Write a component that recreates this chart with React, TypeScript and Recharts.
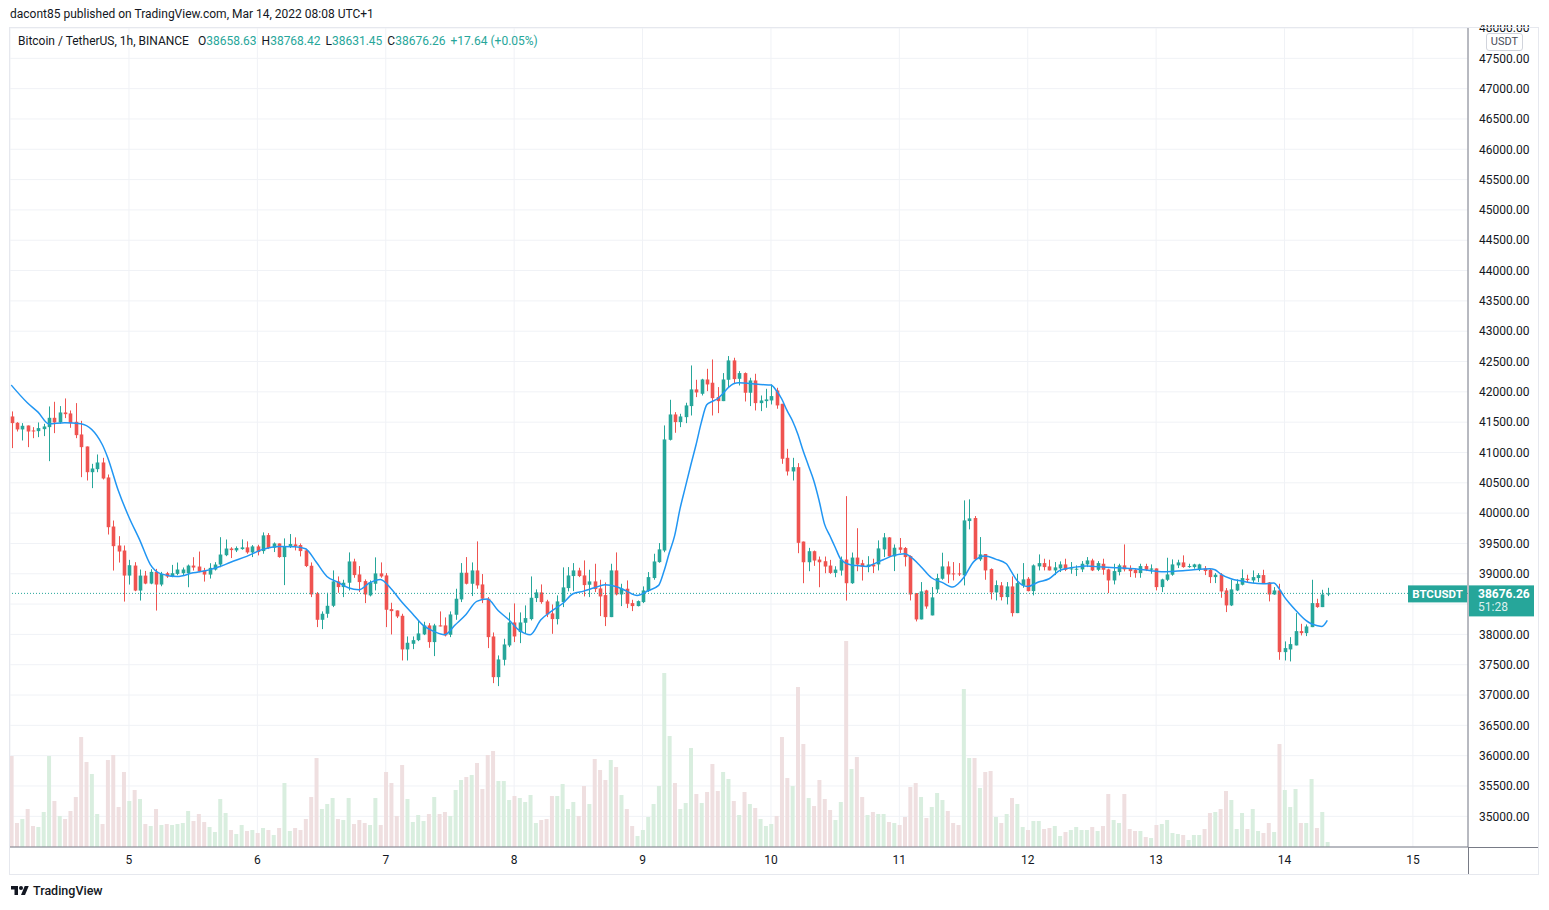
import React from "react";
import {
  ComposedChart,
  Bar,
  Line,
  XAxis,
  YAxis,
  CartesianGrid,
  ReferenceLine,
  Cell,
} from "recharts";

// BTCUSDT 1h candles, first bar = Mar 4 02:00 (UTC+1), last bar = Mar 14 08:00
const opens = [
  41594, 41490, 41380, 41445, 41363, 41352, 41385, 41418, 41572, 41495,
  41660, 41644, 41506, 41297, 41099, 40675, 40725, 40835, 40588, 39779,
  39466, 39383, 38970, 39135, 38723, 38970, 38838, 39031, 38822, 39009,
  38954, 38998, 39009, 39009, 39135, 39119, 39053, 38987, 39069, 39152,
  39306, 39416, 39385, 39407, 39435, 39352, 39451, 39374, 39638, 39429,
  39500, 39275, 39451, 39484, 39473, 39385, 39132, 38676, 38241, 38340,
  38472, 38874, 38780, 38852, 39203, 38989, 38879, 38643, 38835, 39006,
  38972, 38417, 38395, 38307, 37752, 37845, 37905, 38000, 38148, 37873,
  38148, 38148, 37994, 38324, 38577, 39017, 38835, 39055, 38824, 38588,
  37966, 37295, 37581, 37818, 38197, 38038, 38192, 38252, 38599, 38692,
  38544, 38346, 38252, 38533, 38764, 38962, 39055, 38972, 38819, 38874,
  38758, 38648, 38285, 39055, 38659, 38753, 38516, 38467, 38533, 38714,
  38929, 39192, 39383, 41209, 41627, 41501, 41583, 41765, 42040, 41968,
  42204, 42150, 41913, 41847, 42199, 42518, 42215, 42309, 41985, 42188,
  41814, 41847, 41858, 42023, 41803, 40912, 40687, 40758, 39531, 39190,
  39372, 39234, 39207, 39135, 39014, 39053, 39234, 38844, 39267, 39174,
  39113, 39154, 39154, 39402, 39600, 39286, 39435, 39424, 39292, 38681,
  38247, 38725, 38313, 38742, 38918, 39121, 39006, 39006, 38973, 39869,
  39919, 39237, 39325, 39077, 38692, 38808, 38615, 38791, 38351, 38808,
  38918, 38714, 39121, 39176, 39121, 39055, 39088, 39154, 39072, 39072,
  39072, 39154, 39220, 39066, 39165, 39072, 38890, 39028, 39138, 39088,
  39066, 39011, 39127, 39066, 39088, 38780, 38901, 38984, 39138, 39187,
  39110, 39110, 39066, 39088, 39066, 38945, 38984, 38725, 38478, 38725,
  38819, 38918, 38890, 38929, 38978, 38857, 38659, 38725, 37708, 37752,
  37818, 38054, 38021, 38120, 38516, 38450, 38658.63,
];

const highs = [
  41677, 41500, 41484, 41445, 41418, 41495, 41473, 41759, 41836, 41765,
  41891, 41693, 41814, 41522, 41099, 40813, 40967, 40912, 40637, 39878,
  39620, 39466, 39229, 39191, 39070, 39047, 39075, 39080, 39031, 39031,
  39146, 39185, 39103, 39152, 39273, 39366, 39097, 39174, 39191, 39603,
  39565, 39438, 39451, 39567, 39534, 39473, 39478, 39682, 39671, 39517,
  39500, 39583, 39655, 39600, 39500, 39413, 39187, 38698, 38379, 38687,
  39055, 38956, 38901, 39352, 39248, 39127, 38907, 38890, 39270, 39187,
  39011, 38522, 38395, 38340, 37966, 37966, 38225, 38208, 38186, 38175,
  38379, 38280, 38379, 38753, 39176, 39275, 39187, 39534, 38995, 38615,
  38032, 37653, 37928, 38362, 38511, 38362, 38478, 38956, 38742, 38824,
  38571, 38494, 38643, 39105, 39110, 39176, 39099, 39220, 39066, 39165,
  38901, 38857, 39165, 39352, 38835, 38890, 38571, 38560, 38791, 39028,
  39330, 39506, 41446, 41869, 41665, 41638, 41820, 42435, 42199, 42215,
  42380, 42534, 42078, 42309, 42590, 42562, 42342, 42320, 42232, 42298,
  41940, 42050, 42122, 42067, 41803, 41060, 40912, 40824, 39531, 39427,
  39383, 39284, 39284, 39229, 39124, 39284, 40280, 39350, 39751, 39229,
  39290, 39248, 39550, 39671, 39605, 39484, 39589, 39440, 39303, 38681,
  38863, 38736, 38780, 39000, 39347, 39204, 39193, 39176, 40210, 40227,
  39952, 39605, 39325, 39088, 38890, 38863, 38863, 38956, 39000, 39176,
  38945, 39154, 39319, 39248, 39231, 39193, 39204, 39248, 39193, 39138,
  39209, 39275, 39248, 39209, 39248, 39083, 39165, 39165, 39484, 39138,
  39083, 39165, 39165, 39154, 39088, 38918, 39264, 39237, 39231, 39303,
  39165, 39165, 39165, 39127, 39083, 39011, 39011, 38764, 38901, 38907,
  39072, 38984, 39055, 39011, 39066, 38863, 38780, 38835, 37884, 37955,
  38351, 38175, 38164, 38901, 38588, 38736, 38768.42,
];

const lows = [
  41072, 41346, 41198, 41088, 41236, 41253, 41270, 40857, 41319, 41473,
  41567, 41407, 41236, 40593, 40538, 40412, 40675, 40555, 39647, 39053,
  39185, 38541, 38822, 38712, 38558, 38827, 38827, 38393, 38794, 38932,
  38943, 38976, 38970, 38778, 39053, 39025, 38871, 38921, 39053, 39108,
  39290, 39259, 39358, 39396, 39330, 39275, 39303, 39330, 39407, 39358,
  39264, 38813, 39424, 39385, 39286, 39110, 38615, 38120, 38087, 38274,
  38450, 38687, 38615, 38725, 38934, 38698, 38516, 38626, 38725, 38934,
  38120, 37999, 38269, 37570, 37570, 37757, 37889, 37988, 37779, 37642,
  38131, 37966, 37955, 38241, 38533, 38824, 38632, 38753, 38516, 37774,
  37196, 37147, 37488, 37790, 37873, 37856, 38010, 38230, 38533, 38505,
  38285, 38010, 38164, 38450, 38709, 38714, 38945, 38626, 38615, 38698,
  38302, 38137, 38285, 38643, 38467, 38434, 38384, 38461, 38516, 38698,
  38901, 39181, 39355, 41198, 41325, 41418, 41484, 41610, 41913, 41940,
  42012, 41610, 41649, 41847, 42078, 42133, 42105, 41841, 41765, 41693,
  41682, 41737, 41792, 41721, 40813, 40620, 40538, 39339, 38844, 39042,
  39130, 38778, 39009, 38998, 38943, 38970, 38558, 38833, 39042, 38888,
  39025, 39011, 39055, 39275, 39275, 39044, 39341, 39121, 38560, 38214,
  38247, 38423, 38313, 38681, 38901, 38846, 38890, 38962, 38808, 39732,
  39220, 39209, 38901, 38577, 38560, 38560, 38494, 38296, 38351, 38769,
  38709, 38643, 39055, 39055, 39055, 38978, 39028, 39044, 39000, 38962,
  39028, 39110, 39044, 39044, 38984, 38681, 38824, 38973, 39039, 38945,
  38934, 38934, 39044, 39000, 38725, 38698, 38879, 38967, 39094, 39099,
  39099, 39083, 39044, 38978, 38846, 38846, 38604, 38368, 38467, 38714,
  38808, 38863, 38846, 38863, 38835, 38544, 38654, 37581, 37570, 37554,
  37818, 37983, 37972, 38120, 38439, 38450, 38631.45,
];

const closes = [
  41484, 41380, 41440, 41346, 41352, 41402, 41429, 41572, 41495, 41660,
  41632, 41484, 41286, 41088, 40675, 40736, 40835, 40571, 39768, 39455,
  39367, 38970, 39141, 38723, 38970, 38838, 39031, 38822, 38998, 38954,
  39009, 39070, 39070, 39135, 39103, 39036, 38987, 39097, 39152, 39317,
  39416, 39390, 39424, 39435, 39352, 39451, 39358, 39633, 39424, 39500,
  39275, 39451, 39490, 39457, 39374, 39127, 38659, 38241, 38340, 38472,
  38874, 38780, 38852, 39203, 38978, 38863, 38659, 38857, 39006, 38956,
  38406, 38384, 38296, 37752, 37862, 37905, 38016, 38148, 37873, 38148,
  38137, 37983, 38329, 38588, 39017, 38835, 39055, 38808, 38588, 37955,
  37295, 37587, 37834, 38197, 37966, 38197, 38269, 38604, 38692, 38533,
  38329, 38252, 38544, 38775, 38972, 39055, 38962, 38813, 38874, 38747,
  38626, 38285, 39055, 38659, 38758, 38505, 38467, 38549, 38725, 38945,
  39203, 39402, 41215, 41627, 41501, 41594, 41776, 42040, 41990, 42204,
  42122, 41896, 41847, 42204, 42518, 42210, 42309, 41985, 42188, 41814,
  41858, 41875, 41930, 41776, 40896, 40687, 40758, 39510, 39190, 39372,
  39218, 39190, 39119, 39014, 39069, 39234, 38844, 39267, 39152, 39119,
  39152, 39121, 39418, 39600, 39286, 39429, 39396, 39275, 38659, 38247,
  38709, 38461, 38610, 38929, 39121, 38989, 38995, 38989, 39880, 39913,
  39237, 39319, 39055, 38692, 38813, 38615, 38791, 38351, 38846, 38907,
  38714, 39138, 39176, 39110, 39055, 39105, 39154, 39066, 39088, 39083,
  39165, 39220, 39055, 39176, 39066, 38890, 39044, 39138, 39072, 39044,
  39011, 39127, 39066, 39088, 38780, 38907, 38989, 39154, 39187, 39110,
  39127, 39154, 39154, 39044, 38945, 38984, 38709, 38478, 38742, 38835,
  38929, 38896, 38945, 38978, 38835, 38659, 38725, 37708, 37774, 37840,
  38054, 38021, 38131, 38516, 38450, 38659, 38676.26,
];

const volumes = [
  91, 24, 28, 38, 21, 20, 35, 91, 46, 31,
  28, 36, 50, 110, 85, 73, 33, 23, 87, 92,
  40, 75, 46, 57, 48, 23, 21, 38, 22, 23,
  22, 23, 24, 36, 26, 33, 25, 20, 15, 48,
  34, 17, 13, 22, 16, 17, 14, 19, 17, 12,
  19, 64, 16, 19, 17, 28, 50, 89, 38, 43,
  49, 28, 27, 49, 23, 27, 24, 22, 49, 22,
  75, 64, 31, 82, 48, 25, 32, 26, 33, 50,
  33, 35, 31, 57, 67, 70, 72, 84, 58, 92,
  96, 66, 66, 47, 51, 49, 45, 52, 24, 27,
  28, 51, 51, 63, 38, 45, 31, 61, 43, 88,
  77, 67, 87, 80, 52, 38, 21, 11, 17, 30,
  43, 61, 174, 111, 64, 38, 44, 99, 53, 44,
  55, 83, 56, 75, 68, 46, 32, 55, 43, 39,
  28, 21, 23, 31, 110, 69, 61, 160, 103, 49,
  41, 67, 48, 37, 27, 45, 206, 78, 90, 50,
  32, 35, 33, 33, 25, 24, 22, 30, 60, 64,
  50, 29, 40, 54, 47, 36, 24, 22, 158, 89,
  89, 59, 75, 76, 30, 24, 33, 49, 43, 20,
  17, 26, 26, 18, 19, 21, 11, 15, 17, 20,
  17, 17, 20, 16, 21, 53, 27, 24, 53, 18,
  16, 16, 10, 9, 22, 23, 27, 14, 13, 12,
  7, 12, 12, 18, 34, 35, 38, 56, 47, 18,
  34, 18, 38, 16, 14, 24, 15, 103, 57, 40,
  58, 24, 24, 68, 19, 35, 5,
];

// moving average: [bar index, value]
const maPoints: [number, number][] = [
  [0, 42111], [3, 41820], [5, 41665], [7, 41473], [10, 41490], [13, 41473],
  [17, 41132], [18, 40923], [20, 40373], [22, 39933], [24, 39559], [26, 39152],
  [28, 38998], [31, 38954], [34, 39015], [37, 39064], [39, 39119], [41, 39190],
  [44, 39286], [47, 39402], [50, 39451], [53, 39446], [55, 39413], [57, 39193],
  [59, 38956], [61, 38863], [63, 38769], [65, 38736], [67, 38852], [69, 38907],
  [71, 38753], [73, 38533], [75, 38340], [77, 38148], [79, 38049], [81, 37995],
  [83, 38159], [85, 38329], [87, 38544], [89, 38582], [91, 38395], [93, 38241],
  [95, 38065], [97, 37994], [99, 38241], [101, 38384], [103, 38505], [105, 38670],
  [107, 38714], [109, 38769], [111, 38819], [113, 38791], [115, 38714], [117, 38643],
  [119, 38720], [121, 38808], [122, 39040], [123, 39345], [124, 39630], [125, 40070],
  [126, 40428], [127, 40786], [128, 41127], [129, 41500], [130, 41786], [131, 41841],
  [132, 41886], [133, 41968], [134, 42067], [135, 42133], [136, 42150], [138, 42139],
  [140, 42122], [142, 42111], [143, 42023], [144, 41886], [145, 41693], [146, 41528],
  [147, 41308], [148, 41033], [149, 40786], [150, 40538], [151, 40208], [152, 39823],
  [153, 39630], [154, 39438], [155, 39245], [156, 39174], [157, 39146], [158, 39135],
  [160, 39119], [161, 39154], [163, 39231], [165, 39303], [167, 39330], [168, 39286],
  [170, 39121], [172, 38934], [174, 38857], [176, 38780], [177, 38835], [178, 38934],
  [180, 39209], [182, 39292], [184, 39242], [186, 39165], [187, 39028], [188, 38890],
  [190, 38791], [192, 38863], [194, 38918], [196, 39055], [198, 39099], [200, 39121],
  [201, 39127], [204, 39110], [207, 39099], [210, 39083], [213, 39050], [215, 39033],
  [217, 39039], [219, 39050], [221, 39066], [223, 39077], [224, 39083], [225, 39066],
  [226, 39000], [228, 38918], [230, 38879], [232, 38846], [234, 38835], [236, 38846],
  [237, 38753], [238, 38615], [239, 38505], [240, 38406], [241, 38313], [242, 38230],
  [243, 38175], [244, 38148], [245, 38131], [246, 38230],
];

const dayTicks = [22, 46, 70, 94, 118, 142, 166, 190, 214, 238, 262];
const dayLabels = ["5", "6", "7", "8", "9", "10", "11", "12", "13", "14", "15"];
const priceTicks = [
  35000, 35500, 36000, 36500, 37000, 37500, 38000, 38500, 39000, 39500,
  40000, 40500, 41000, 41500, 42000, 42500, 43000, 43500, 44000, 44500,
  45000, 45500, 46000, 46500, 47000, 47500, 48000,
];
// tick hidden behind the last-price badge
const hiddenPriceTicks = [38500];
const lastPrice = 38676.26;

const UP = "#26a69a";
const DOWN = "#ef5350";
const VOL_UP = "#d9eedf";
const VOL_DOWN = "#efdfe0";
const TEXT = "#131722";

const maMap = new Map(maPoints);
const data = opens.map((o, i) => ({
  i,
  open: o,
  high: highs[i],
  low: lows[i],
  close: closes[i],
  range: [lows[i], highs[i]],
  volume: volumes[i],
  ma: maMap.has(i) ? maMap.get(i) : null,
}));

function Candle(props: any) {
  const { x, y, width, height, payload } = props;
  if (!payload || x == null) return null;
  const { open, close, high, low } = payload;
  const top = Math.min(y, y + height);
  const h = Math.abs(height);
  const py = (v: number) => top + ((high - v) / (high - low || 1)) * h;
  const cx = Math.round(x + width / 2) + 0.5;
  const color = close >= open ? UP : DOWN;
  const bTop = py(Math.max(open, close));
  const bBot = py(Math.min(open, close));
  return (
    <g>
      <line x1={cx} x2={cx} y1={top} y2={top + h} stroke={color} strokeWidth={1} />
      <rect x={cx - 1.8} y={bTop} width={3.6} height={Math.max(1, bBot - bTop)} fill={color} />
    </g>
  );
}

function PriceTick(props: any) {
  const { x, y, payload } = props;
  if (hiddenPriceTicks.includes(payload.value)) return <g />;
  return (
    <text x={x} y={y} dy="0.355em" textAnchor="start" fill={TEXT} fontSize={12}>
      {Number(payload.value).toFixed(2)}
    </text>
  );
}

function PriceTag(props: any) {
  const vb = props.viewBox;
  if (!vb) return null;
  const right = vb.x + vb.width;
  const y = vb.y;
  return (
    <g>
      <rect x={right - 60} y={y - 8} width={59} height={17} fill={UP} />
      <text x={right - 30.5} y={y + 4.5} textAnchor="middle" fill="#fff" fontSize={11.5} fontWeight={700}>
        BTCUSDT
      </text>
      <rect x={right + 1} y={y - 8} width={65} height={31} fill={UP} />
      <text x={right + 10} y={y + 5} fill="#fff" fontSize={12} fontWeight={700}>
        38676.26
      </text>
      <text x={right + 10} y={y + 18} fill="#fff" fontSize={12} fillOpacity={0.85}>
        51:28
      </text>
    </g>
  );
}

export default function App() {
  return (
    <div
      style={{
        position: "relative",
        width: 1549,
        height: 910,
        fontFamily: "Roboto, 'Noto Sans', sans-serif",
        background: "#fff",
      }}
    >
      <style>{"body{margin:0}"}</style>
      <ComposedChart
        width={1549}
        height={910}
        data={data}
        margin={{ top: 28, right: 10, bottom: 35, left: 10 }}
      >
        <CartesianGrid stroke="#f0f2f6" />
        <XAxis
          dataKey="i"
          type="number"
          domain={[-0.24, 272.3]}
          ticks={dayTicks}
          interval={0}
          allowDataOverflow
          tickFormatter={(v: number) => dayLabels[dayTicks.indexOf(v)]}
          axisLine={{ stroke: "#787b86" }}
          tickLine={false}
          tick={{ fill: TEXT, fontSize: 12 }}
          tickMargin={2}
          height={28}
        />
        <XAxis xAxisId="v" dataKey="i" type="number" domain={[-0.24, 272.3]} allowDataOverflow hide />
        <YAxis
          orientation="right"
          domain={[34494, 48000]}
          ticks={priceTicks}
          interval={0}
          allowDataOverflow
          axisLine={{ stroke: "#787b86" }}
          tickLine={false}
          tick={PriceTick}
          tickMargin={5}
          width={71}
        />
        <YAxis yAxisId="vol" domain={[0, 819]} allowDataOverflow hide />
        <Bar xAxisId="v" yAxisId="vol" dataKey="volume" barSize={4} isAnimationActive={false}>
          {data.map((d, i) => (
            <Cell key={`v-${i}`} fill={d.close >= d.open ? VOL_UP : VOL_DOWN} />
          ))}
        </Bar>
        <ReferenceLine
          y={lastPrice}
          stroke={UP}
          strokeDasharray="1 2"
          label={PriceTag}
        />
        <Bar dataKey="range" barSize={4} shape={Candle} isAnimationActive={false} />
        <Line
          dataKey="ma"
          type="monotone"
          connectNulls
          dot={false}
          stroke="#2196f3"
          strokeWidth={1.5}
          isAnimationActive={false}
        />
      </ComposedChart>

      {/* header */}
      <div style={{ position: "absolute", left: 10, top: 6, fontSize: 12, color: TEXT, lineHeight: "16px" }}>
        dacont85 published on TradingView.com, Mar 14, 2022 08:08 UTC+1
      </div>
      {/* legend */}
      <div style={{ position: "absolute", left: 18, top: 33, fontSize: 12, color: TEXT, lineHeight: "16px", whiteSpace: "pre" }}>
        <span>Bitcoin / TetherUS, 1h, BINANCE</span>
        <span style={{ marginLeft: 9 }}>O</span><span style={{ color: UP }}>38658.63</span>
        <span style={{ marginLeft: 5 }}>H</span><span style={{ color: UP }}>38768.42</span>
        <span style={{ marginLeft: 5 }}>L</span><span style={{ color: UP }}>38631.45</span>
        <span style={{ marginLeft: 5 }}>C</span><span style={{ color: UP }}>38676.26</span>
        <span style={{ marginLeft: 5, color: UP }}>+17.64 (+0.05%)</span>
      </div>
      {/* clip of the top price label */}
      <div style={{ position: "absolute", left: 1470, top: 0, width: 70, height: 25, background: "#fff" }} />
      {/* currency badge */}
      <div
        style={{
          position: "absolute",
          left: 1486,
          top: 33,
          width: 35,
          height: 16,
          border: "1px solid #d1d4dc",
          borderRadius: 3,
          background: "#fff",
          fontSize: 11,
          color: "#4a4e5a",
          textAlign: "center",
          lineHeight: "16px",
        }}
      >
        USDT
      </div>
      {/* axis extensions and frame */}
      <div style={{ position: "absolute", left: 1468, top: 847, width: 71, height: 1, background: "#787b86" }} />
      <div style={{ position: "absolute", left: 1468, top: 847, width: 1, height: 28, background: "#787b86" }} />
      <div
        style={{
          position: "absolute",
          left: 9,
          top: 27,
          width: 1530,
          height: 848,
          border: "1px solid #e6e8ee",
          boxSizing: "border-box",
          pointerEvents: "none",
        }}
      />
      {/* footer logo */}
      <div style={{ position: "absolute", left: 10, top: 883, display: "flex", alignItems: "center", fontSize: 12.5, color: TEXT }}>
        <svg width={20} height={14} viewBox="0 0 36 28" style={{ marginRight: 3 }}>
          <path d="M14 22H7V11H0V4h14v18z" fill={TEXT} />
          <circle cx={20} cy={8} r={4} fill={TEXT} />
          <path d="M28 22h-8l7.5-18h8L28 22z" fill={TEXT} />
        </svg>
        <span style={{ fontWeight: 500 }}>TradingView</span>
      </div>
    </div>
  );
}
